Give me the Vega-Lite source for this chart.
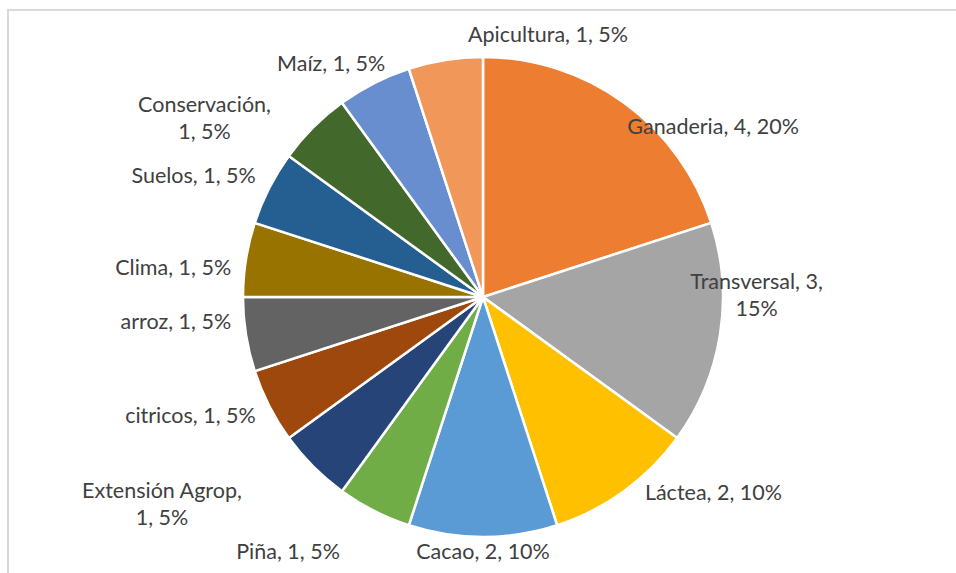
{
  "$schema": "https://vega.github.io/schema/vega-lite/v6.json",
  "autosize": "none",
  "padding": {"left": 8, "top": 10, "right": 0, "bottom": 0},
  "width": 950,
  "height": 574,
  "background": "white",
  "view": {"stroke": "#D9D9D9", "strokeWidth": 2},
  "config": {"text": {"font": "Lato", "fontSize": 21.5, "color": "#404040", "baseline": "middle", "lineBreak": "\n", "lineHeight": 27}},
  "data": {"values": [
    {"orden": 1, "categoria": "Ganaderia", "valor": 4, "etiqueta": "Ganaderia, 4, 20%"},
    {"orden": 2, "categoria": "Transversal", "valor": 3, "etiqueta": "Transversal, 3,\n15%"},
    {"orden": 3, "categoria": "Láctea", "valor": 2, "etiqueta": "Láctea, 2, 10%"},
    {"orden": 4, "categoria": "Cacao", "valor": 2, "etiqueta": "Cacao, 2, 10%"},
    {"orden": 5, "categoria": "Piña", "valor": 1, "etiqueta": "Piña, 1, 5%"},
    {"orden": 6, "categoria": "Extensión Agrop", "valor": 1, "etiqueta": "Extensión Agrop,\n1, 5%"},
    {"orden": 7, "categoria": "citricos", "valor": 1, "etiqueta": "citricos, 1, 5%"},
    {"orden": 8, "categoria": "arroz", "valor": 1, "etiqueta": "arroz, 1, 5%"},
    {"orden": 9, "categoria": "Clima", "valor": 1, "etiqueta": "Clima, 1, 5%"},
    {"orden": 10, "categoria": "Suelos", "valor": 1, "etiqueta": "Suelos, 1, 5%"},
    {"orden": 11, "categoria": "Conservación", "valor": 1, "etiqueta": "Conservación,\n1, 5%"},
    {"orden": 12, "categoria": "Maíz", "valor": 1, "etiqueta": "Maíz, 1, 5%"},
    {"orden": 13, "categoria": "Apicultura", "valor": 1, "etiqueta": "Apicultura, 1, 5%"}
  ]},
  "encoding": {
    "theta": {"field": "valor", "type": "quantitative", "stack": true},
    "order": {"field": "orden", "type": "quantitative"}
  },
  "layer": [
    {
      "mark": {"type": "arc", "outerRadius": 240, "stroke": "white", "strokeWidth": 2.5},
      "encoding": {
        "color": {
          "field": "categoria", "type": "nominal", "legend": null,
          "scale": {
            "domain": ["Ganaderia", "Transversal", "Láctea", "Cacao", "Piña", "Extensión Agrop", "citricos", "arroz", "Clima", "Suelos", "Conservación", "Maíz", "Apicultura"],
            "range": ["#ED7D31", "#A5A5A5", "#FFC000", "#5B9BD5", "#70AD47", "#264478", "#9E480E", "#636363", "#997300", "#255E91", "#43682B", "#698ED0", "#F1975A"]
          }
        }
      }
    },
    {
      "mark": {"type": "text", "radius": 215, "align": "left", "dx": 18, "dy": 5},
      "encoding": {"text": {"condition": {"test": {"field": "categoria", "oneOf": ["Ganaderia"]}, "field": "etiqueta"}, "value": ""}}
    },
    {
      "mark": {"type": "text", "radius": 255, "align": "left", "dx": 12, "dy": -9},
      "encoding": {"text": {"condition": {"test": {"field": "categoria", "oneOf": ["Láctea"]}, "field": "etiqueta"}, "value": ""}}
    },
    {
      "mark": {"type": "text", "radius": 262, "align": "left", "dx": 26, "dy": -2},
      "encoding": {"text": {"condition": {"test": {"field": "categoria", "oneOf": ["Apicultura"]}, "field": "etiqueta"}, "value": ""}}
    },
    {
      "mark": {"type": "text", "radius": 277, "align": "center", "dy": -57},
      "encoding": {"text": {"condition": {"test": {"field": "categoria", "oneOf": ["Transversal"]}, "field": "etiqueta"}, "value": ""}}
    },
    {
      "mark": {"type": "text", "radius": 253, "align": "center", "dy": 3},
      "encoding": {"text": {"condition": {"test": {"field": "categoria", "oneOf": ["Cacao"]}, "field": "etiqueta"}, "value": ""}}
    },
    {
      "mark": {"type": "text", "radius": 255, "align": "right", "dy": -4},
      "encoding": {"text": {"condition": {"test": {"field": "categoria", "oneOf": ["Suelos"]}, "field": "etiqueta"}, "value": ""}}
    },
    {
      "mark": {"type": "text", "radius": 255, "align": "right", "dy": 4},
      "encoding": {"text": {"condition": {"test": {"field": "categoria", "oneOf": ["citricos"]}, "field": "etiqueta"}, "value": ""}}
    },
    {
      "mark": {"type": "text", "radius": 255, "align": "right", "dy": 12},
      "encoding": {"text": {"condition": {"test": {"field": "categoria", "oneOf": ["Clima"]}, "field": "etiqueta"}, "value": ""}}
    },
    {
      "mark": {"type": "text", "radius": 255, "align": "right", "dy": -14},
      "encoding": {"text": {"condition": {"test": {"field": "categoria", "oneOf": ["arroz"]}, "field": "etiqueta"}, "value": ""}}
    },
    {
      "mark": {"type": "text", "radius": 255, "align": "right", "dx": 18, "dy": -5},
      "encoding": {"text": {"condition": {"test": {"field": "categoria", "oneOf": ["Maíz"]}, "field": "etiqueta"}, "value": ""}}
    },
    {
      "mark": {"type": "text", "radius": 280, "align": "right", "dx": -16, "dy": 7},
      "encoding": {"text": {"condition": {"test": {"field": "categoria", "oneOf": ["Piña"]}, "field": "etiqueta"}, "value": ""}}
    },
    {
      "mark": {"type": "text", "radius": 290, "align": "center", "dx": -116, "dy": -10},
      "encoding": {"text": {"condition": {"test": {"field": "categoria", "oneOf": ["Extensión Agrop"]}, "field": "etiqueta"}, "value": ""}}
    },
    {
      "mark": {"type": "text", "radius": 275, "align": "center", "dx": -84, "dy": 3},
      "encoding": {"text": {"condition": {"test": {"field": "categoria", "oneOf": ["Conservación"]}, "field": "etiqueta"}, "value": ""}}
    }
  ]
}
